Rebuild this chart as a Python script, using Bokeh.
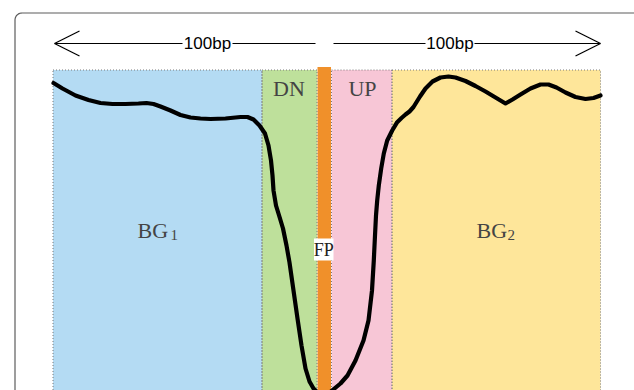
import numpy as np
from bokeh.plotting import figure
from bokeh.models import Range1d, Arrow, OpenHead, ColumnDataSource
from bokeh.core.properties import value
from bokeh.embed import file_html
from bokeh.resources import INLINE

# ---- data (positions in drawing units, y grows downward) ----
region_names = ["BG1", "DN", "FP", "UP", "BG2"]
region_left = [52.5, 261.5, 317.0, 331.0, 391.5]
region_right = [261.5, 316.5, 330.5, 391.5, 600.0]
region_top = [69.5, 69.5, 66.5, 69.5, 69.5]
region_colors = ["#b4dbf3", "#bee09b", "#f0902a", "#f7c6d6", "#fee69a"]
region_dotted = [True, True, False, True, True]

curve_x = [53, 62, 75, 88, 100, 112, 125, 138, 146, 153, 160, 170, 180, 190, 200, 210,
           225, 240, 247, 253, 259, 264.5, 268, 270.5, 272, 273, 275.5, 279.5,
           282.5, 286, 289, 293, 297, 301, 305, 309, 313, 317, 324, 331.5, 340,
           347, 355, 363, 368, 371.5, 373.3, 374.5, 375.5, 376.7, 378.3, 380.7,
           383.3, 386.7, 391.7, 396.7, 401, 405, 409, 413, 419.5, 425, 432, 440, 448, 455,
           465, 475, 485, 495, 505, 512, 520, 530, 540, 548, 556, 565, 575, 585,
           593, 600]
curve_y = [82.5, 88, 95, 99.5, 102.5, 103.5, 103.5, 103, 102.5, 103.5, 106, 110, 114.5, 117,
           118, 118.5, 118, 116.5, 116.5, 119, 125, 133, 145, 160, 175, 190, 205,
           218, 228, 245, 262, 290, 318, 345, 368, 381, 388, 392, 397, 390, 383,
           375, 360, 340, 320, 290, 260, 235, 215, 200, 185, 168, 153, 140, 130,
           121.7, 117.5, 114, 111, 106.5, 96, 88, 81, 77, 76, 77, 80.5, 85.5, 91, 97, 103, 99,
           94, 88, 84, 84, 87, 92, 96.5, 98.5, 97.5, 95]

arrow_label = "100bp"
# each arrow: outer shaft start (near FP), gap around label, tip
arrow_left = [315, 232, 182, 54]
arrow_right = [333, 425, 474, 600]
arrow_y = 43
arrow_label_x = [207, 449.5]

label_text = ["DN", "UP", "BG", "BG"]
label_x = [288.5, 362, 137, 476]
label_y = [88, 88, 229.5, 229.5]
label_align = ["center", "center", "left", "left"]
sub_text = ["1", "2"]
sub_x = [170, 507]
sub_y = [234, 234]
fp_text = ["FP"]
fp_x, fp_y = [323.3], [249]

W, H = 634, 390
p = figure(width=W, height=H, x_range=Range1d(0, W), y_range=Range1d(H, 0),
           output_backend="svg", toolbar_location=None, min_border=0)
p.axis.visible = False
p.grid.visible = False
p.outline_line_color = None
p.background_fill_color = "white"
p.border_fill_color = "white"

# frame border (rounded top-left corner, runs off the right and bottom)
fl, ft, fr = 14.5, 12.5, 7.0
ang = np.linspace(np.pi, 1.5 * np.pi, 12)
bx = [fl] + list(fl + fr + fr * np.cos(ang)) + [W + 10]
by = [H + 10] + list(ft + fr + fr * np.sin(ang)) + [ft]
p.line(bx, by, line_color="#5c5c5c", line_width=1.2)

# regions
n = len(region_names)
bottom = [H + 10] * n
src = ColumnDataSource(dict(l=region_left, r=region_right, t=region_top, b=bottom,
                            c=region_colors))
p.quad(left="l", right="r", top="t", bottom="b", fill_color="c", line_color=None, source=src)
dl = [l for l, d in zip(region_left, region_dotted) if d]
dr = [r for r, d in zip(region_right, region_dotted) if d]
dt = [t for t, d in zip(region_top, region_dotted) if d]
p.quad(left=dl, right=dr, top=dt, bottom=[H + 10] * len(dl), fill_color=None,
       line_color="#7a7a7a", line_dash="1 2", line_width=1)

# curve
p.line(curve_x, curve_y, line_color="black", line_width=4.2, line_join="round", line_cap="round")

# arrows (shaft split around the label)
for xs in (arrow_left, arrow_right):
    p.segment(x0=[xs[0]], y0=[arrow_y], x1=[xs[1]], y1=[arrow_y],
              line_color="black", line_width=1.2)
    p.add_layout(Arrow(end=OpenHead(size=25, line_width=1.2, line_color="black"),
                       x_start=xs[2], y_start=arrow_y, x_end=xs[3], y_end=arrow_y,
                       line_width=1.2, line_color="black"))
p.text(x=arrow_label_x, y=[arrow_y, arrow_y], text=[arrow_label] * 2, text_align="center",
       text_baseline="middle", text_font=value("Liberation Sans"), text_font_size="17px",
       text_color="black")

# region labels
lsrc = ColumnDataSource(dict(x=label_x, y=label_y, t=label_text, a=label_align))
p.text(x="x", y="y", text="t", text_align="a", text_baseline="alphabetic",
       text_font=value("Liberation Serif"), text_font_size="22px", text_color="#444444",
       source=lsrc)
p.text(x=sub_x, y=sub_y, text=sub_text, text_align="left", text_baseline="alphabetic",
       text_font=value("Liberation Serif"), text_font_size="15px", text_color="#444444")

# FP label on a white box
p.quad(left=[313.5], right=[333], top=[238], bottom=[260], fill_color="white", line_color=None)
p.text(x=fp_x, y=fp_y, text=fp_text, text_align="center", text_baseline="middle",
       text_font=value("Liberation Serif"), text_font_size="18px", text_color="#222222")

open("out.html", "w").write(file_html(p, INLINE))
